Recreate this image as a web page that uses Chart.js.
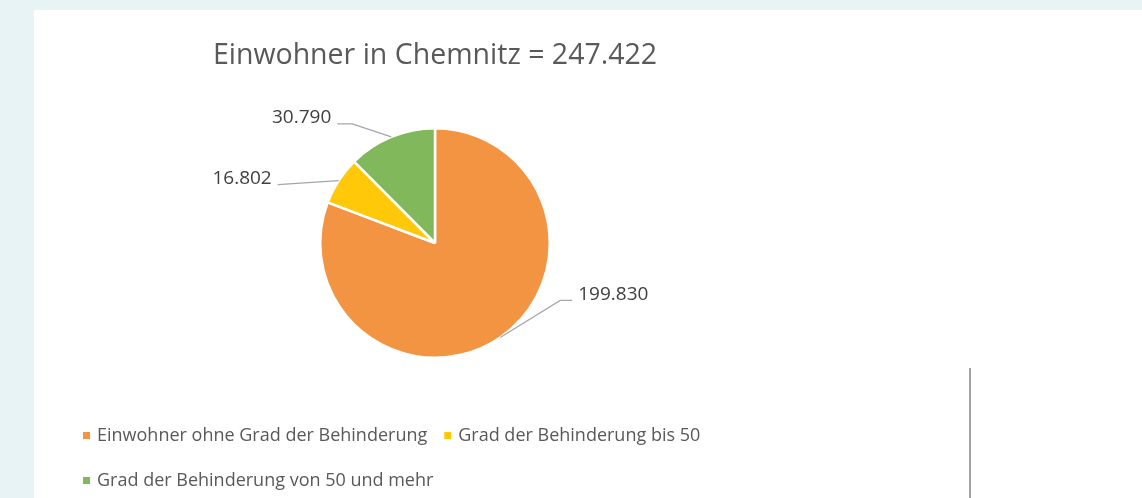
<!DOCTYPE html>
<html>
<head>
<meta charset="utf-8">
<script src="https://cdn.jsdelivr.net/npm/chart.js@4/dist/chart.umd.min.js"></script>
<style>
    html, body { margin: 0; padding: 0; }
    body { width: 1142px; height: 498px; background: #e7f3f4; overflow: hidden; position: relative; }
    #panel { position: absolute; left: 34px; top: 10px; width: 1108px; height: 488px; background: #fff; }
    #rule { position: absolute; left: 969px; top: 368px; width: 2px; height: 130px; background: #a3a3a3; }
</style>
</head>
<body>
<div id="panel"><canvas id="pieChart"></canvas></div>
<div id="rule"></div>
<script>
const chartTitle = "Einwohner in Chemnitz = 247.422";
const categories = [
    "Einwohner ohne Grad der Behinderung",
    "Grad der Behinderung bis 50",
    "Grad der Behinderung von 50 und mehr",
];
const residents = [199830, 16802, 30790];
const sliceColors = ["#f39442", "#ffc90a", "#81b85b"];

// 199830 -> "199.830"
const fmt = (v) => String(v).replace(/\B(?=(\d{3})+(?!\d))/g, ".");

const FONT = "'Open Sans', sans-serif";

// title centred over the pie
const pieTitle = {
    id: "pieTitle",
    afterDraw(chart, args, opts) {
        const { ctx, chartArea } = chart;
        ctx.save();
        ctx.font = `${opts.size}px ${FONT}`;
        ctx.fillStyle = "#595959";
        ctx.textAlign = "center";
        ctx.textBaseline = "middle";
        ctx.fillText(opts.text, (chartArea.left + chartArea.right) / 2, opts.y);
        ctx.restore();
    },
};

// leader lines + value labels outside the slices
const leaderLabels = {
    id: "leaderLabels",
    afterDatasetsDraw(chart, args, opts) {
        const { ctx } = chart;
        const meta = chart.getDatasetMeta(0);
        ctx.save();
        ctx.font = `${opts.size}px ${FONT}`;
        ctx.textBaseline = "middle";
        meta.data.forEach((arc, i) => {
            const p = arc.getProps(["x", "y", "startAngle", "endAngle", "outerRadius"], true);
            const mid = (p.startAngle + p.endAngle) / 2;
            const ax = p.x + Math.cos(mid) * p.outerRadius;
            const ay = p.y + Math.sin(mid) * p.outerRadius;
            const o = opts.offsets[i];
            const ex = ax + o.dx;
            const ey = ay + o.dy;
            const side = o.dx >= 0 ? 1 : -1;
            const tx = ex + side * o.tail;
            ctx.strokeStyle = "#a6a6a6";
            ctx.lineWidth = 1.2;
            ctx.beginPath();
            ctx.moveTo(ax, ay);
            ctx.lineTo(ex, ey);
            ctx.lineTo(tx, ey);
            ctx.stroke();
            ctx.fillStyle = "#404040";
            ctx.textAlign = side > 0 ? "left" : "right";
            ctx.fillText(fmt(chart.data.datasets[0].data[i]), tx + side * 6, ey - 6);
        });
        ctx.restore();
    },
};

// Excel-like legend: small squares, left aligned, wrapping rows
const squareLegend = {
    id: "squareLegend",
    afterDraw(chart, args, opts) {
        const { ctx } = chart;
        const labels = chart.data.labels;
        const colors = chart.data.datasets[0].backgroundColor;
        ctx.save();
        ctx.font = `${opts.size}px ${FONT}`;
        ctx.textBaseline = "middle";
        ctx.textAlign = "left";
        let x = opts.left;
        let y = opts.top;
        labels.forEach((lbl, i) => {
            const w = 14 + ctx.measureText(lbl).width;
            if (x > opts.left && x + w > opts.maxRight) {
                x = opts.left;
                y += opts.rowGap;
            }
            ctx.fillStyle = colors[i];
            ctx.fillRect(x, y - 4, 7, 7);
            ctx.fillStyle = "#595959";
            ctx.fillText(lbl, x + 14, y);
            x += w + 17;
        });
        ctx.restore();
    },
};

new Chart(document.getElementById("pieChart"), {
    type: "pie",
    data: {
        labels: categories,
        datasets: [
            {
                data: residents,
                backgroundColor: sliceColors,
                borderColor: "#fff",
                borderWidth: 2.5,
                hoverOffset: 0,
            },
        ],
    },
    options: {
        responsive: true,
        maintainAspectRatio: false,
        animation: false,
        events: [],
        layout: { padding: { left: 285, right: 591, top: 117, bottom: 139 } },
        plugins: {
            legend: { display: false },
            tooltip: { enabled: false },
            title: { display: false },
            pieTitle: { text: chartTitle, size: 28.5, y: 46 },
            leaderLabels: {
                size: 19,
                offsets: [
                    { dx: 60, dy: -37, tail: 12 },
                    { dx: -61, dy: 4, tail: 0 },
                    { dx: -39, dy: -13, tail: 15 },
                ],
            },
            squareLegend: { size: 18, left: 49, top: 426, rowGap: 45, maxRight: 800 },
        },
    },
    plugins: [pieTitle, leaderLabels, squareLegend],
});
</script>
</body>
</html>
